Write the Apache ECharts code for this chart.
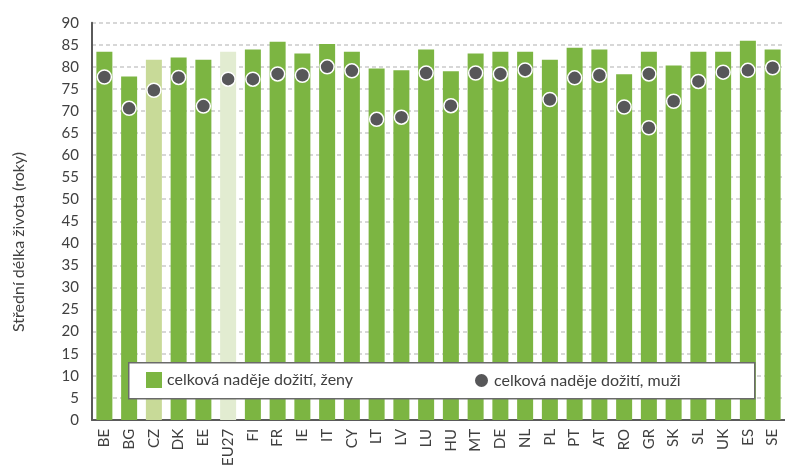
<!DOCTYPE html>
<html>
<head>
<meta charset="utf-8">
<script src="https://cdn.jsdelivr.net/npm/echarts@6/dist/echarts.min.js"></script>
<style>html,body{margin:0;padding:0;background:#fff}#c{width:785px;height:469px}</style>
</head>
<body>
<div id="c"></div>
<script>
var categories = ['BE','BG','CZ','DK','EE','EU27','FI','FR','IE','IT','CY','LT','LV','LU','HU','MT','DE','NL','PL','PT','AT','RO','GR','SK','SL','UK','ES','SE'];
var women = [83.4,77.8,81.6,82.1,81.6,83.4,83.9,85.7,83.0,85.2,83.4,79.6,79.2,83.9,79.0,83.0,83.4,83.4,81.6,84.3,83.9,78.3,83.4,80.3,83.4,83.4,85.9,83.9];
var men = [77.7,70.6,74.7,77.6,71.1,77.2,77.2,78.4,78.1,80.0,79.1,68.1,68.6,78.6,71.2,78.6,78.4,79.3,72.6,77.5,78.1,70.9,78.4,72.2,76.7,78.8,79.2,79.8];
var extraMen = [['GR', 66.2]];
var yTicks = {min: 0, max: 90, interval: 5};
var seriesNames = ['celková naděje dožití, ženy', 'celková naděje dožití, muži'];
var highlight = {CZ: '#c8da98', EU27: '#e2ecd1'};

var GREEN = '#7cb542';
var DOT = '#575759';
var TXT = '#404040';
var FONT = 'Lato, "Noto Sans", sans-serif';

var barData = women.map(function (v, i) {
  var c = highlight[categories[i]];
  return c ? {value: v, itemStyle: {color: c}} : v;
});
var dotData = men.map(function (v, i) { return [categories[i], v]; }).concat(extraMen);

var chart = echarts.init(document.getElementById('c'), null, {renderer: 'canvas'});
chart.setOption({
  animation: false,
  textStyle: {fontFamily: FONT},
  grid: {left: 92, right: 0, top: 22.7, bottom: 46.7, containLabel: false},
  xAxis: {
    type: 'category',
    data: categories,
    axisLine: {lineStyle: {color: '#5a5a5a', width: 2}},
    axisTick: {show: false},
    axisLabel: {rotate: 90, fontSize: 15, color: TXT, margin: 9, fontFamily: FONT}
  },
  yAxis: {
    type: 'value',
    min: yTicks.min, max: yTicks.max, interval: yTicks.interval,
    axisLine: {show: true, lineStyle: {color: '#5a5a5a', width: 2}},
    axisTick: {show: false},
    axisLabel: {fontSize: 15, color: TXT, margin: 13, fontFamily: FONT},
    splitLine: {lineStyle: {color: '#cacaca', width: 1.5, type: [4, 3]}}
  },
  legend: [
    {data: [seriesNames[0]], left: 146, top: 372, z: 100, itemWidth: 16, itemHeight: 16, itemGap: 0,
     icon: 'rect', textStyle: {fontSize: 16, color: TXT, fontFamily: FONT}, padding: 0},
    {data: [seriesNames[1]], left: 473, top: 372, z: 100, itemWidth: 15, itemHeight: 15, itemGap: 0,
     icon: 'circle', textStyle: {fontSize: 16, color: TXT, fontFamily: FONT}, padding: 0}
  ],
  graphic: [
    {type: 'rect', left: 128, top: 362, z: 50, silent: true,
     shape: {width: 626, height: 36},
     style: {fill: '#fff', stroke: '#6a6a6a', lineWidth: 1.5}},
    {type: 'text', x: 19, y: 242, rotation: Math.PI / 2, z: 10,
     style: {text: 'Střední délka života (roky)', fontSize: 16, fill: TXT, fontFamily: FONT,
             align: 'center', verticalAlign: 'middle'}}
  ],
  series: [
    {name: seriesNames[0], type: 'bar', data: barData, barWidth: 16,
     itemStyle: {color: GREEN}, z: 2},
    {name: seriesNames[1], type: 'scatter', data: dotData, symbol: 'circle', symbolSize: 14,
     itemStyle: {color: DOT, borderColor: '#fff', borderWidth: 1.5, opacity: 1}, z: 3}
  ]
});
</script>
</body>
</html>
